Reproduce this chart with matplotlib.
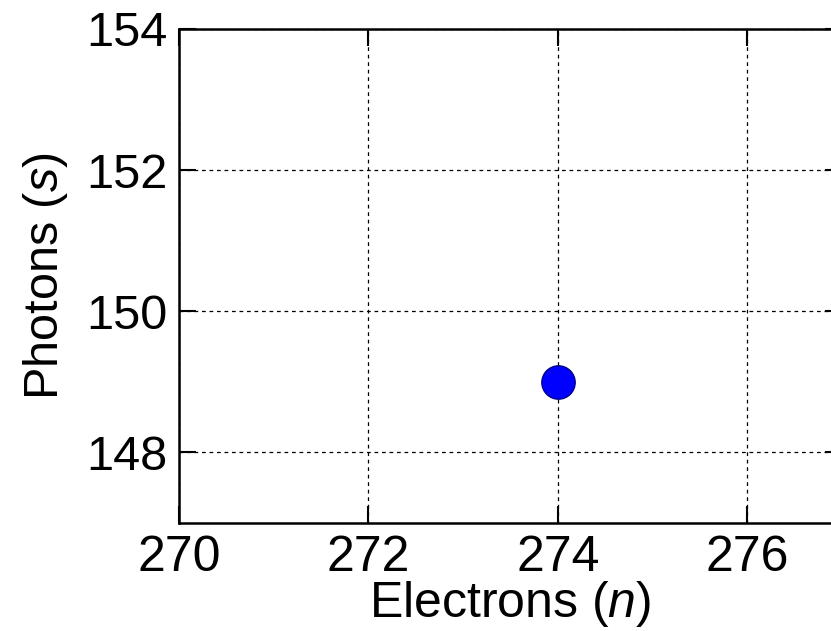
import numpy as np
import matplotlib
matplotlib.use('Agg')
import matplotlib.pyplot as plt

plt.rcParams['font.family'] = ['Liberation Sans', 'DejaVu Sans']
plt.rcParams['mathtext.fontset'] = 'custom'
plt.rcParams['mathtext.it'] = 'Liberation Sans:italic'
plt.rcParams['mathtext.rm'] = 'Liberation Sans'

# single event: electron count vs photon count
electrons = [274]
photons = [149]

x_ticks = [270, 272, 274, 276]
y_ticks = [148, 150, 152, 154]

fig = plt.figure(figsize=(8.31, 6.31), dpi=100)
ax = fig.add_axes([0.2154, 0.1712, 0.798, 0.783])

ax.plot(electrons, photons, 'o', color='#0000ff', markeredgecolor='#00008b',
        markersize=24, markeredgewidth=1, zorder=3)

ax.set_xlim(270, 277)
ax.set_ylim(147, 154)
ax.set_xticks(x_ticks)
ax.set_yticks(y_ticks)

ax.grid(True, color='black', linestyle=(0, (3, 3)), linewidth=0.9)
ax.tick_params(direction='in', length=12, width=1.5,
               top=True, right=True)
ax.tick_params(axis='x', labelsize=36, pad=9)
ax.tick_params(axis='y', labelsize=35, pad=8)
for s in ax.spines.values():
    s.set_linewidth(1.8)

ax.set_xlabel('Electrons ($n$)', fontsize=36, labelpad=-2)
ax.set_ylabel('Photons ($s$)', fontsize=35, labelpad=12)

plt.savefig('out.png', dpi=100)
